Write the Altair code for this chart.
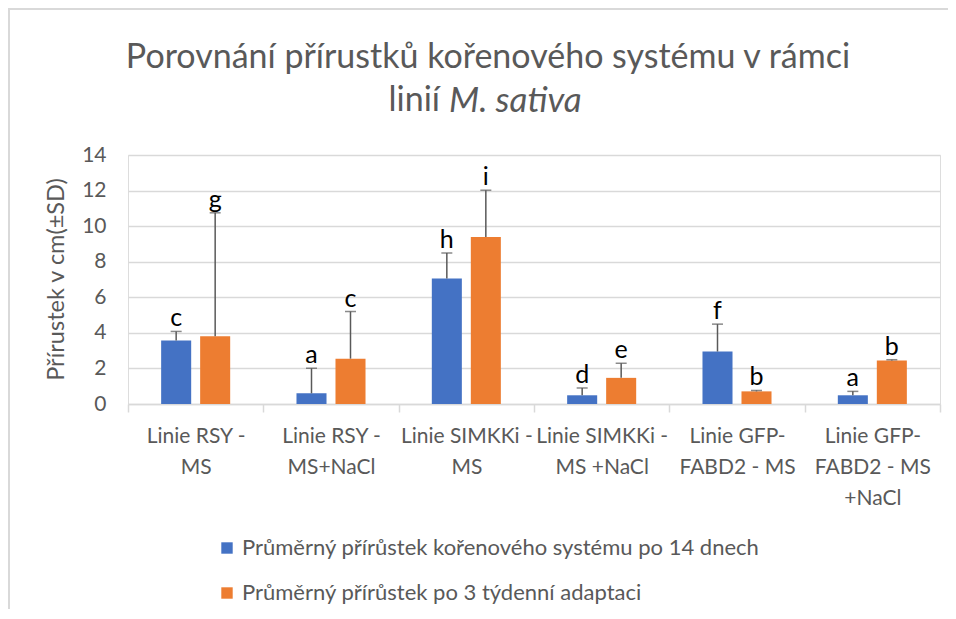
import altair as alt
import pandas as pd

categories = ["Linie RSY -|MS", "Linie RSY -|MS+NaCl", "Linie SIMKKi -|MS",
              "Linie SIMKKi -|MS +NaCl", "Linie GFP-|FABD2 - MS", "Linie GFP-|FABD2 - MS|+NaCl"]
series = ["Průměrný přírůstek kořenového systému po 14 dnech",
          "Průměrný přírůstek po 3 týdenní adaptaci"]
mean_14d = [3.57, 0.60, 7.06, 0.49, 2.95, 0.49]
sd_14d = [0.51, 1.41, 1.43, 0.41, 1.54, 0.22]
mean_3w = [3.81, 2.55, 9.39, 1.47, 0.71, 2.44]
sd_3w = [6.94, 2.65, 2.63, 0.82, 0.05, 0.05]
letters_14d = ["c", "a", "h", "d", "f", "a"]
letters_3w = ["g", "c", "i", "e", "b", "b"]
colors = ["#4472C4", "#ED7D31"]
y_ticks = [0, 2, 4, 6, 8, 10, 12, 14]
title_line1 = "Porovnání přírustků kořenového systému v rámci"
title_line2a = "linií"
title_line2b = "M. sativa"
y_title = "Přírustek v cm(±SD)"

rows = []
for s, means, sds, lets in [(series[0], mean_14d, sd_14d, letters_14d),
                            (series[1], mean_3w, sd_3w, letters_3w)]:
    for c, m, sd, l in zip(categories, means, sds, lets):
        rows.append({"cat": c, "series": s, "mean": m, "top": m + sd, "letter": l})
df = pd.DataFrame(rows)

FONT = "Lato"
GRAY = "#595959"

x_enc = alt.X("cat:N", sort=categories, title=None,
              scale=alt.Scale(paddingInner=0, paddingOuter=0),
              axis=alt.Axis(labelExpr="split(datum.label, '|')", labelAngle=0,
                            tickBand="extent", tickSize=8, tickColor="#d9d9d9",
                            domainColor="#d9d9d9", domainWidth=1.5, tickWidth=1.5,
                            labelFontSize=21, labelColor=GRAY, labelFont=FONT,
                            labelPadding=13, labelLineHeight=31, labelBaseline="top",
                            labelLimit=200))
xo_enc = alt.XOffset("series:N", sort=series,
                     scale=alt.Scale(paddingInner=0.23, paddingOuter=0.85))

y_scale = alt.Scale(domain=[0, 14], nice=False)
y_axis = alt.Axis(values=y_ticks, domain=False, ticks=False, gridColor="#d9d9d9",
                  gridWidth=1.5, labelFontSize=21, labelColor=GRAY, labelFont=FONT,
                  labelPadding=22, title=y_title, titleFontSize=23.5,
                  titleColor=GRAY, titleFont=FONT, titleFontWeight="normal",
                  titleX=-72, titleY=124, titleAngle=-90, titleAlign="center",
                  titleBaseline="middle", labelOverlap=False)


def y_enc(field):
    return alt.Y(field, scale=y_scale, axis=y_axis)


base = alt.Chart(df)

bars = base.mark_bar().encode(
    x=x_enc, xOffset=xo_enc,
    y=y_enc("mean:Q"),
    color=alt.Color("series:N", sort=series, scale=alt.Scale(domain=series, range=colors),
                    legend=alt.Legend(title=None, orient="none", legendX=88, legendY=382,
                                      direction="vertical", symbolType="square",
                                      symbolSize=130, symbolStrokeWidth=0,
                                      labelFontSize=22, labelColor=GRAY, labelFont=FONT,
                                      labelLimit=800, rowPadding=23, labelOffset=4)),
)

err = base.mark_rule(color=GRAY, strokeWidth=1.5).encode(
    x=x_enc, xOffset=xo_enc, y=y_enc("mean:Q"), y2="top:Q")
caps = base.mark_tick(color=GRAY, thickness=1.5, size=11).encode(
    x=x_enc, xOffset=xo_enc, y=y_enc("top:Q"))
labels = base.mark_text(fontSize=25, font=FONT, color="black", baseline="alphabetic",
                        dy=-5).encode(x=x_enc, xOffset=xo_enc, y=y_enc("top:Q"),
                                      text="letter:N")

one = pd.DataFrame({"t1": [title_line1], "t2a": [title_line2a], "t2b": [title_line2b]})
t_base = alt.Chart(one)
t1 = t_base.mark_text(fontSize=34, font=FONT, color=GRAY, align="center",
                      baseline="middle").encode(text="t1:N", x=alt.value(360), y=alt.value(-97))
t2a = t_base.mark_text(fontSize=34, font=FONT, color=GRAY, align="right",
                       baseline="middle").encode(text="t2a:N", x=alt.value(312), y=alt.value(-54))
t2b = t_base.mark_text(fontSize=35, font=FONT, color=GRAY, align="left", fontStyle="italic",
                       baseline="middle").encode(text="t2b:N", x=alt.value(321), y=alt.value(-54))
frame = t_base.mark_rect(fill=None, stroke="#d9d9d9", strokeWidth=2).encode(
    x=alt.value(-119), x2=alt.value(900), y=alt.value(-146), y2=alt.value(560))

chart = alt.layer(frame, bars, err, caps, labels, t1, t2a, t2b).properties(
    width=812, height=249,
    autosize=alt.AutoSizeParams(type="none"),
    padding={"left": 120, "top": 147, "right": 8, "bottom": 205},
).configure_view(stroke=None).configure(font=FONT)

chart.save("out.html", embed_options={"renderer": "svg", "actions": False})
